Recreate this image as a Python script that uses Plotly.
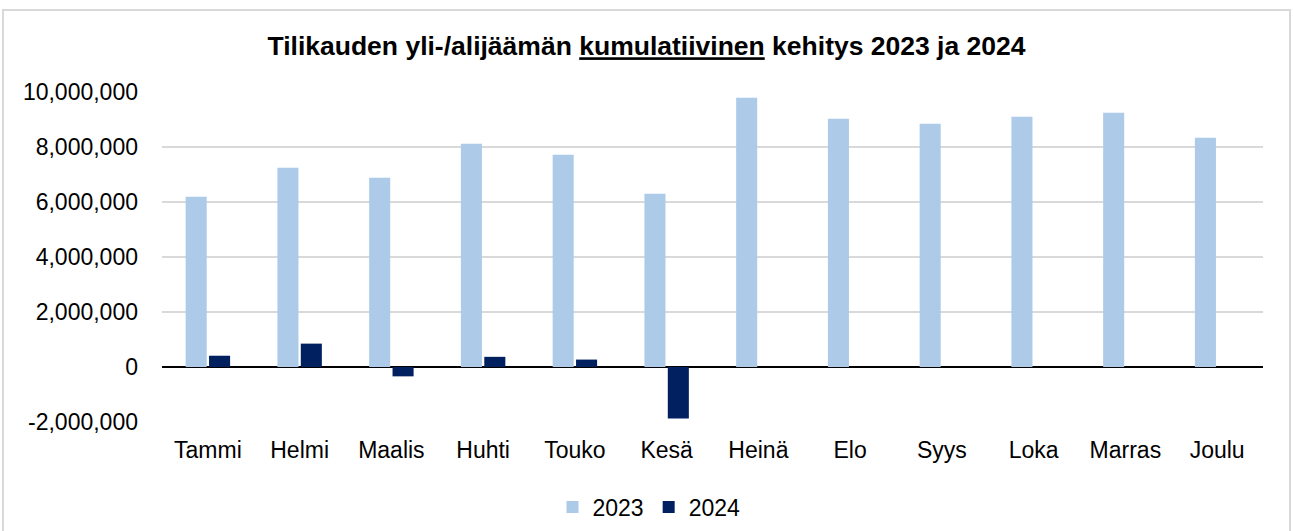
import plotly.graph_objects as go

months = ["Tammi", "Helmi", "Maalis", "Huhti", "Touko", "Kesä", "Heinä", "Elo", "Syys", "Loka", "Marras", "Joulu"]
values_2023 = [6190000, 7250000, 6880000, 8120000, 7720000, 6300000, 9790000, 9030000, 8850000, 9100000, 9250000, 8340000]
values_2024 = [410000, 850000, -340000, 370000, 270000, -1870000, None, None, None, None, None, None]
y_ticks = [-2000000, 0, 2000000, 4000000, 6000000, 8000000, 10000000]
y_tick_labels = [f"{v:,}" for v in y_ticks]

title_text = "<b>Tilikauden yli-/alijäämän <u>kumulatiivinen</u> kehitys 2023 ja 2024</b>"

FONT = "Liberation Sans, Arial, sans-serif"
W, H = 1293, 531
L, R, T, B = 162, 30, 92, 109
pw = W - L - R
ph = H - T - B


def xp(pix):
    return (pix - L) / pw


def yp(pix):
    return (H - B - pix) / ph


fig = go.Figure()
fig.add_trace(go.Bar(name="2023", x=months, y=values_2023, marker=dict(color="#ADCBE8", line=dict(width=0))))
fig.add_trace(go.Bar(name="2024", x=months, y=values_2024, marker=dict(color="#002060", line=dict(width=0))))

fig.add_shape(type="rect", xref="paper", yref="paper",
              x0=xp(3), x1=xp(1290), y0=yp(560), y1=yp(10),
              line=dict(color="#d9d9d9", width=2), fillcolor="rgba(0,0,0,0)", layer="below")

fig.update_layout(
    width=W, height=H,
    margin=dict(l=L, r=R, t=T, b=B, autoexpand=False),
    paper_bgcolor="white", plot_bgcolor="white",
    font=dict(family=FONT, size=23, color="#000000"),
    title=dict(text=title_text, x=0.5, xanchor="center", xref="container", y=1 - 46 / H, yanchor="middle",
               font=dict(family=FONT, size=26.5, color="#000000")),
    barmode="group", bargap=0.49, bargroupgap=0.1,
    showlegend=True,
    legend=dict(orientation="h", x=xp(649), xanchor="center", y=yp(507), yanchor="middle",
                font=dict(family=FONT, size=23, color="#000000"), itemwidth=30, traceorder="normal"),
    xaxis=dict(showgrid=False, showline=False, ticks="", ticklabelstandoff=12,
               tickfont=dict(family=FONT, size=23, color="#000000")),
    yaxis=dict(range=[-2000000, 10000000], tickvals=y_ticks, ticktext=y_tick_labels,
               showgrid=True, gridcolor="#d9d9d9", gridwidth=1.5,
               zeroline=True, zerolinecolor="#000000", zerolinewidth=2,
               showline=False, ticks="", ticklabelstandoff=23,
               tickfont=dict(family=FONT, size=23, color="#000000")),
)

fig.write_html("out.html", config={"displayModeBar": False},
               post_script="document.body.style.margin='0';document.body.style.overflow='hidden';")
